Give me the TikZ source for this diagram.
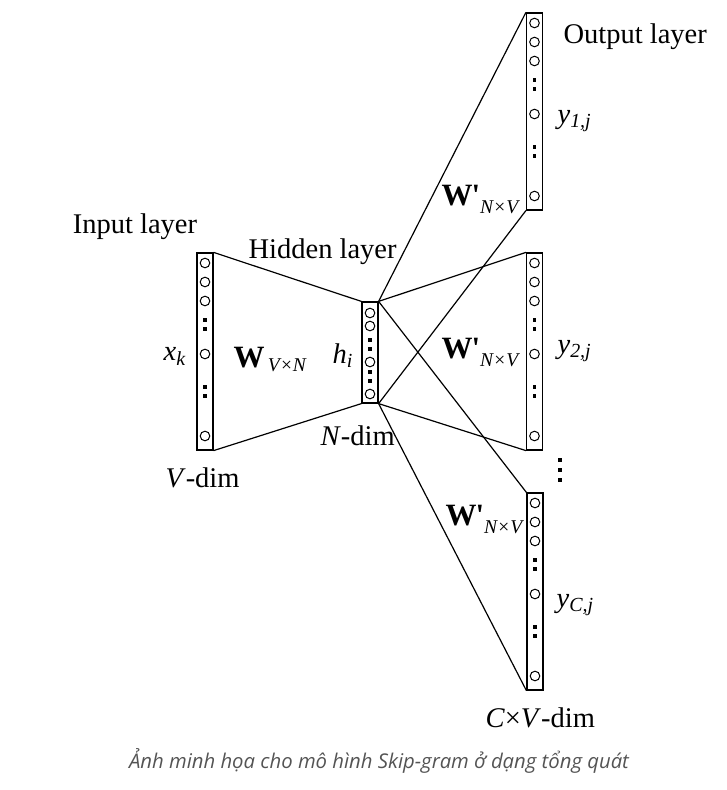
\documentclass[tikz,border=0pt]{standalone}
\usepackage{fontspec}
\setmainfont{Liberation Serif}
\newfontfamily\captionfont{Open Sans}
\newcommand{\bigcol}[3]{%
  \node[layer, minimum height=197pt] (#1) at (#2, #3+98.5) {};
  \foreach \dy in {10,29,48,101,183} \draw[line width=1pt] (#2, #3+\dy) circle (4.8pt);
  \foreach \dy in {67,76,134,143} \fill (#2-1.6, #3+\dy-1.6) rectangle ++(3.2,3.2);
}
\newcommand{\wsub}[2]{\raisebox{#1}{\fontsize{19.5}{22}\selectfont\itshape #2}}
\begin{document}
\begin{tikzpicture}[x=1pt, y=-1pt, line width=1.2pt,
  layer/.style={draw, rectangle, inner sep=0pt, minimum width=16pt},
  lbl/.style={inner sep=0pt, anchor=base west, font=\fontsize{28.5}{32}\selectfont},
  wlbl/.style={lbl, font=\fontsize{31}{34}\selectfont}]
\useasboundingbox (0,0) rectangle (727,790);

\bigcol{in}{205}{253}
\bigcol{out1}{534.5}{13}
\bigcol{out2}{534.5}{253}
\bigcol{outC}{535}{493}

\node[layer, minimum height=101pt] (hid) at (370, 352.5) {};
\foreach \dy in {11,24,60,92} \draw[line width=1pt] (370, 302+\dy) circle (4.8pt);
\foreach \dy in {38,47,70,79} \fill (370-1.6, 302+\dy-1.6) rectangle ++(3.2,3.2);

\foreach \dy in {460,470,480} \fill (560-1.8, \dy-1.8) rectangle ++(3.6,3.6);

\draw (in.north east) -- (hid.north west);
\draw (in.south east) -- (hid.south west);
\foreach \o in {out1,out2,outC} {
  \draw (hid.north east) -- (\o.north west);
  \draw (hid.south east) -- (\o.south west);
}

\node[lbl, anchor=base] (inlbl) at (135,233) {Input layer};
\node[lbl] (hidlbl) at (248,258) {Hidden layer};
\node[lbl] (outlbl) at (563,43) {Output layer};
\node[lbl] (xk) at (163,360) {\textit{x}\textsubscript{\textit{k}}};
\node[wlbl] (win) at (233,367) {\textbf{W}\wsub{-4pt}{\,V×N}};
\node[lbl] (hi) at (332,363) {\textit{h}\textsubscript{\textit{i}}};
\node[lbl] (ndim) at (320,445) {\textit{N}-dim};
\node[lbl] (vdim) at (165,487) {\textit{V}-dim};
\node[wlbl] (wout1) at (441,205) {\textbf{W\kern-1pt\textquotesingle}\wsub{-8pt}{N×V}};
\node[wlbl] (wout2) at (441,358) {\textbf{W\kern-1pt\textquotesingle}\wsub{-8pt}{N×V}};
\node[wlbl] (woutC) at (445,525) {\textbf{W\kern-1pt\textquotesingle}\wsub{-8pt}{N×V}};
\node[lbl] (y1) at (557,123) {\textit{y}\textsubscript{\textit{1,j}}};
\node[lbl] (y2) at (557,353) {\textit{y}\textsubscript{\textit{2,j}}};
\node[lbl] (yC) at (556,607) {\textit{y}\textsubscript{\textit{C,j}}};
\node[lbl] (cvdim) at (485,727) {\textit{C}×\textit{V}-dim};

\node[inner sep=0pt, anchor=base, text=black!67, font=\captionfont\itshape\fontsize{20.3}{24}\selectfont] (cap) at (379,768) {Ảnh minh họa cho mô hình Skip-gram ở dạng tổng quát};
\end{tikzpicture}
\end{document}
